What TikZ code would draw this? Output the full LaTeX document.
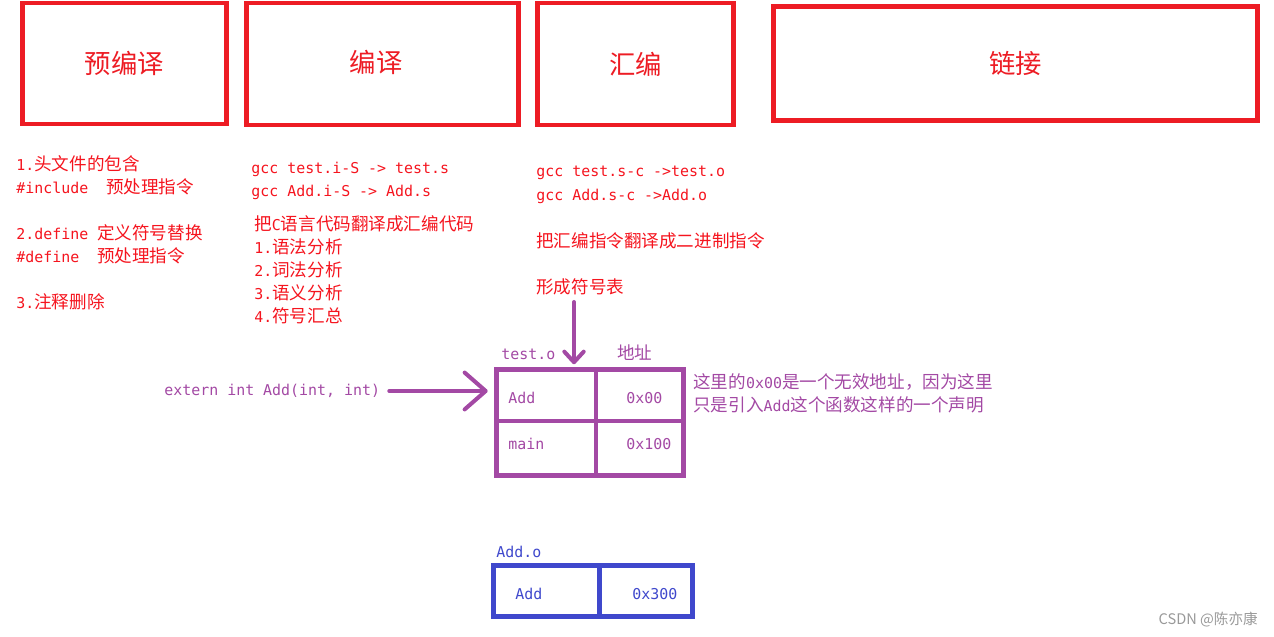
\documentclass[tikz,border=0pt]{standalone}
\usepackage{fontspec}
\setmainfont{Noto Sans CJK SC}
\newfontfamily\mono{DejaVu Sans Mono}[Scale=0.85]
\usetikzlibrary{arrows.meta,positioning}
\definecolor{stepred}{RGB}{237,28,36}
\definecolor{txtred}{RGB}{245,20,30}
\definecolor{tblpurple}{RGB}{163,73,164}
\definecolor{tblblue}{RGB}{63,72,204}
\tikzset{
  stagebox/.style={draw=stepred,line width=2.8pt,text=stepred,inner sep=0pt,font=\fontsize{15}{18}\selectfont},
  redtxt/.style={text=txtred,anchor=west,inner sep=0pt,font=\fontsize{10}{12}\selectfont},
  purtxt/.style={redtxt,text=tblpurple},
  blutxt/.style={redtxt,text=tblblue},
  pcell/.style={draw=tblpurple,line width=2.8pt,anchor=north west,inner sep=0pt,outer sep=0pt},
  bcell/.style={draw=tblblue,line width=2.8pt,anchor=north west,inner sep=0pt,outer sep=0pt},
  parrow/.style={draw=tblpurple,line width=2.3pt,line cap=round},
  marktxt/.style={text=black!40,anchor=east,inner sep=0pt,font=\fontsize{8.3}{10}\selectfont}
}

\begin{document}
\begin{tikzpicture}[x=0.02cm, y=-0.02cm]
  \useasboundingbox (0,0) rectangle (1274,636);
  % Stages
  \node[stagebox, minimum width=4.08cm, minimum height=2.42cm] (pre) at (124.5,63.5) {预编译};
  \node[stagebox, minimum width=5.44cm, minimum height=2.44cm] (comp) at (382.5,64) {};
  \node[text=stepred, font=\fontsize{15}{18}\selectfont] (comptitle) at (376,62) {编译};
  \node[stagebox, minimum width=3.92cm, minimum height=2.44cm] (asm) at (635.5,64) {汇编};
  \node[stagebox, minimum width=9.68cm, minimum height=2.28cm] (link) at (1015.5,63.5) {链接};

  % Preprocessing notes
  \node[redtxt] (pre1) at (16,164) {{\mono 1.}头文件的包含};
  \node[redtxt] (pre2) at (16,187) {{\mono\#include\ \ }预处理指令};
  \node[redtxt] (pre3) at (16,233) {{\mono 2.define\ }定义符号替换};
  \node[redtxt] (pre4) at (16,256) {{\mono\#define\ \ }预处理指令};
  \node[redtxt] (pre5) at (16,302) {{\mono 3.}注释删除};

  % Compile notes
  \node[redtxt] (comp1) at (251,169) {\mono gcc test.i-S -> test.s};
  \node[redtxt] (comp2) at (251,192) {\mono gcc Add.i-S -> Add.s};
  \node[redtxt] (comp3) at (254,224) {把{\mono C}语言代码翻译成汇编代码};
  \node[redtxt] (comp4) at (254,247) {{\mono 1.}语法分析};
  \node[redtxt] (comp5) at (254,270) {{\mono 2.}词法分析};
  \node[redtxt] (comp6) at (254,293) {{\mono 3.}语义分析};
  \node[redtxt] (comp7) at (254,316) {{\mono 4.}符号汇总};

  % Assemble notes
  \node[redtxt] (asm1) at (536,173) {\mono gcc test.s-c ->test.o};
  \node[redtxt] (asm2) at (536,196) {\mono gcc Add.s-c ->Add.o};
  \node[redtxt] (asm3) at (536,241) {把汇编指令翻译成二进制指令};
  \node[redtxt] (symtab) at (536,287) {形成符号表};

  % Symbol table of test.o
  \node[pcell, minimum width=1.99cm, minimum height=1.03cm] (addcell) at (496.5,369.5) {};
  \node[pcell, minimum width=1.75cm, minimum height=1.03cm] (addaddr) at (addcell.north east) {};
  \node[pcell, minimum width=1.99cm, minimum height=1.09cm] (maincell) at (addcell.south west) {};
  \node[pcell, minimum width=1.75cm, minimum height=1.09cm] (mainaddr) at (maincell.north east) {};
  \node[purtxt] (testo) at (501,354) {\mono test.o};
  \node[purtxt] (addrhead) at (617,353) {地址};
  \node[purtxt] (addname) at (508,398) {\mono Add};
  \node[purtxt] (addval) at (626,398) {\mono 0x00};
  \node[purtxt] (mainname) at (508,444) {\mono main};
  \node[purtxt] (mainval) at (626,444) {\mono 0x100};

  % Declaration and note
  \node[purtxt] (extern) at (164,391) {\mono extern int Add(int, int)};
  \node[purtxt] (note1) at (693,382) {这里的{\mono 0x00}是一个无效地址，因为这里};
  \node[purtxt] (note2) at (693,405) {只是引入{\mono Add}这个函数这样的一个声明};

  \coordinate (dtop) at (574,302);
  \draw[parrow, -{Straight Barb[length=6pt,width=11pt,round]}, shorten >=3pt] (dtop) -- (dtop |- addcell.north);
  \draw[parrow, -{Straight Barb[length=12pt,width=21pt,round]}, shorten <=5pt, shorten >=5pt] (extern.east) -- (extern.east -| addcell.west);

  % Symbol table of Add.o
  \node[bcell, minimum width=2.12cm, minimum height=1.02cm] (addocell) at (493.5,565.5) {};
  \node[bcell, minimum width=1.86cm, minimum height=1.02cm] (addoaddr) at (addocell.north east) {};
  \node[blutxt] (addo) at (496,552) {\mono Add.o};
  \node[blutxt] (addoname) at (515,594) {\mono Add};
  \node[blutxt] (addoval) at (632,594) {\mono 0x300};

  \node[marktxt] (mark) at (1258,620) {CSDN @陈亦康};
\end{tikzpicture}
\end{document}
